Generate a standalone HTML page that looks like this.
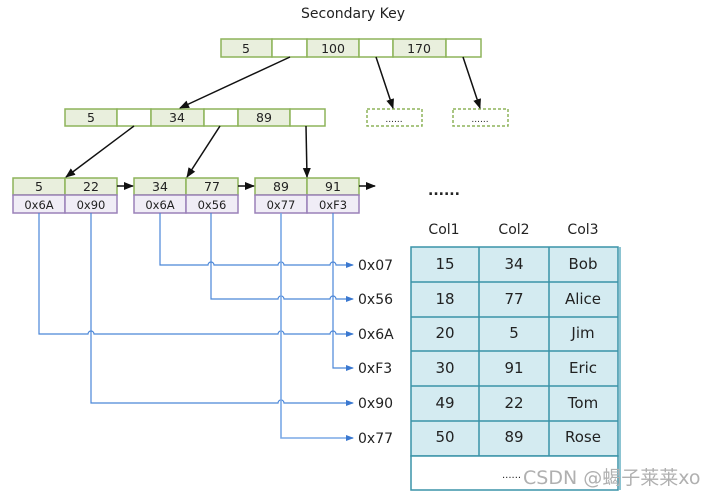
<!DOCTYPE html>
<html><head><meta charset="utf-8"><style>
html,body{margin:0;padding:0;background:#fff;}
svg{display:block;}
text{font-family:"DejaVu Sans","Liberation Sans",sans-serif;fill:#222;}
</style></head><body>
<svg width="709" height="498" viewBox="0 0 709 498" xmlns="http://www.w3.org/2000/svg">
<defs>
<marker id="ak" markerWidth="10" markerHeight="10" refX="9" refY="5" orient="auto" markerUnits="userSpaceOnUse"><path d="M0,1 L10,5 L0,9 z" fill="#111"/></marker>
<marker id="ab" markerWidth="8" markerHeight="8" refX="7" refY="4" orient="auto" markerUnits="userSpaceOnUse"><path d="M0,1 L8,4 L0,7 z" fill="#3a78d0"/></marker>
</defs>
<text x="353" y="18" font-size="14" text-anchor="middle">Secondary Key</text>

<g stroke="#8db45a" stroke-width="1.5">
<rect x="221" y="39" width="51" height="18" fill="#e9efdd"/>
<rect x="272" y="39" width="35" height="18" fill="#fff"/>
<rect x="307" y="39" width="52" height="18" fill="#e9efdd"/>
<rect x="359" y="39" width="34" height="18" fill="#fff"/>
<rect x="393" y="39" width="53" height="18" fill="#e9efdd"/>
<rect x="446" y="39" width="35" height="18" fill="#fff"/>
<rect x="65" y="109" width="52" height="17" fill="#e9efdd"/>
<rect x="117" y="109" width="34" height="17" fill="#fff"/>
<rect x="151" y="109" width="53" height="17" fill="#e9efdd"/>
<rect x="204" y="109" width="34" height="17" fill="#fff"/>
<rect x="238" y="109" width="52" height="17" fill="#e9efdd"/>
<rect x="290" y="109" width="35" height="17" fill="#fff"/>
<rect x="367" y="109" width="55" height="17" fill="#fff" stroke-dasharray="3,2"/>
<rect x="453" y="109" width="55" height="17" fill="#fff" stroke-dasharray="3,2"/>
<rect x="13" y="178" width="52" height="17" fill="#e9efdd"/>
<rect x="65" y="178" width="52" height="17" fill="#e9efdd"/>
<rect x="134" y="178" width="52" height="17" fill="#e9efdd"/>
<rect x="186" y="178" width="52" height="17" fill="#e9efdd"/>
<rect x="255" y="178" width="52" height="17" fill="#e9efdd"/>
<rect x="307" y="178" width="52" height="17" fill="#e9efdd"/>
</g>
<g stroke="#9a80b8" stroke-width="1.5" fill="#f0edf6">
<rect x="13" y="195" width="52" height="18"/>
<rect x="65" y="195" width="52" height="18"/>
<rect x="134" y="195" width="52" height="18"/>
<rect x="186" y="195" width="52" height="18"/>
<rect x="255" y="195" width="52" height="18"/>
<rect x="307" y="195" width="52" height="18"/>
</g>

<g font-size="12.5" text-anchor="middle">
<text x="246" y="53">5</text><text x="333" y="53">100</text><text x="419" y="53">170</text>
<text x="91" y="122">5</text><text x="177" y="122">34</text><text x="264" y="122">89</text>
<text x="394" y="122" font-size="9">......</text><text x="480" y="122" font-size="9">......</text>
<text x="39" y="191">5</text><text x="91" y="191">22</text>
<text x="160" y="191">34</text><text x="212" y="191">77</text>
<text x="281" y="191">89</text><text x="333" y="191">91</text>
<g font-size="11.5">
<text x="39" y="209">0x6A</text><text x="91" y="209">0x90</text>
<text x="160" y="209">0x6A</text><text x="212" y="209">0x56</text>
<text x="281" y="209">0x77</text><text x="333" y="209">0xF3</text>
</g>
</g>
<text x="444" y="195" font-size="14" text-anchor="middle" font-weight="bold">......</text>

<g stroke="#111" stroke-width="1.5" fill="none" marker-end="url(#ak)">
<line x1="290" y1="57" x2="180" y2="108"/>
<line x1="376" y1="57" x2="393" y2="108"/>
<line x1="463" y1="57" x2="480" y2="108"/>
<line x1="134" y1="126" x2="66" y2="177"/>
<line x1="220" y1="126" x2="187" y2="177"/>
<line x1="306" y1="126" x2="307" y2="177"/>
<line x1="117" y1="186" x2="133" y2="186"/>
<line x1="238" y1="186" x2="254" y2="186"/>
<line x1="359" y1="186" x2="375" y2="186"/>
</g>

<g stroke="#4a86d8" stroke-width="1.2" fill="none">
<path d="M160,213 V265 H208 a3 3 0 0 1 6 0 H278 a3 3 0 0 1 6 0 H330 a3 3 0 0 1 6 0 H353" marker-end="url(#ab)"/>
<path d="M211,213 V299 H278 a3 3 0 0 1 6 0 H330 a3 3 0 0 1 6 0 H353" marker-end="url(#ab)"/>
<path d="M39,213 V334 H88 a3 3 0 0 1 6 0 H278 a3 3 0 0 1 6 0 H330 a3 3 0 0 1 6 0 H353" marker-end="url(#ab)"/>
<path d="M333,213 V368 H353" marker-end="url(#ab)"/>
<path d="M91,213 V403 H278 a3 3 0 0 1 6 0 H353" marker-end="url(#ab)"/>
<path d="M281,213 V438 H353" marker-end="url(#ab)" stroke="#7aa8e6" stroke-width="1.6"/>
</g>
<g font-size="14">
<text x="358" y="270">0x07</text><text x="358" y="304">0x56</text><text x="358" y="339">0x6A</text>
<text x="358" y="373">0xF3</text><text x="358" y="408">0x90</text><text x="358" y="443">0x77</text>
</g>

<g font-size="14" text-anchor="middle">
<text x="444" y="234">Col1</text><text x="514" y="234">Col2</text><text x="583" y="234">Col3</text>
</g>
<line x1="620" y1="247" x2="620" y2="490" stroke="#8cc4d2" stroke-width="2"/>
<g stroke="#3a93a8" stroke-width="1.5" fill="#d4ebf1">
<rect x="411" y="247" width="207" height="209"/>
<rect x="411" y="456" width="207" height="34" fill="#fff"/>
<line x1="479" y1="247" x2="479" y2="456"/>
<line x1="549" y1="247" x2="549" y2="456"/>
<line x1="411" y1="282" x2="618" y2="282"/>
<line x1="411" y1="317" x2="618" y2="317"/>
<line x1="411" y1="351" x2="618" y2="351"/>
<line x1="411" y1="386" x2="618" y2="386"/>
<line x1="411" y1="421" x2="618" y2="421"/>
</g>
<g font-size="15" text-anchor="middle">
<text x="445" y="269">15</text><text x="514" y="269">34</text><text x="583" y="269">Bob</text>
<text x="445" y="304">18</text><text x="514" y="304">77</text><text x="583" y="304">Alice</text>
<text x="445" y="338">20</text><text x="514" y="338">5</text><text x="583" y="338">Jim</text>
<text x="445" y="373">30</text><text x="514" y="373">91</text><text x="583" y="373">Eric</text>
<text x="445" y="408">49</text><text x="514" y="408">22</text><text x="583" y="408">Tom</text>
<text x="445" y="442">50</text><text x="514" y="442">89</text><text x="583" y="442">Rose</text>
</g>
<text x="502" y="478" font-size="10">......</text>
<text x="523" y="484" font-size="19" style="fill:#b0b0b0" font-family="Liberation Sans,Noto Sans CJK SC,sans-serif">CSDN @蝎子莱莱xo</text>
</svg>
</body></html>
